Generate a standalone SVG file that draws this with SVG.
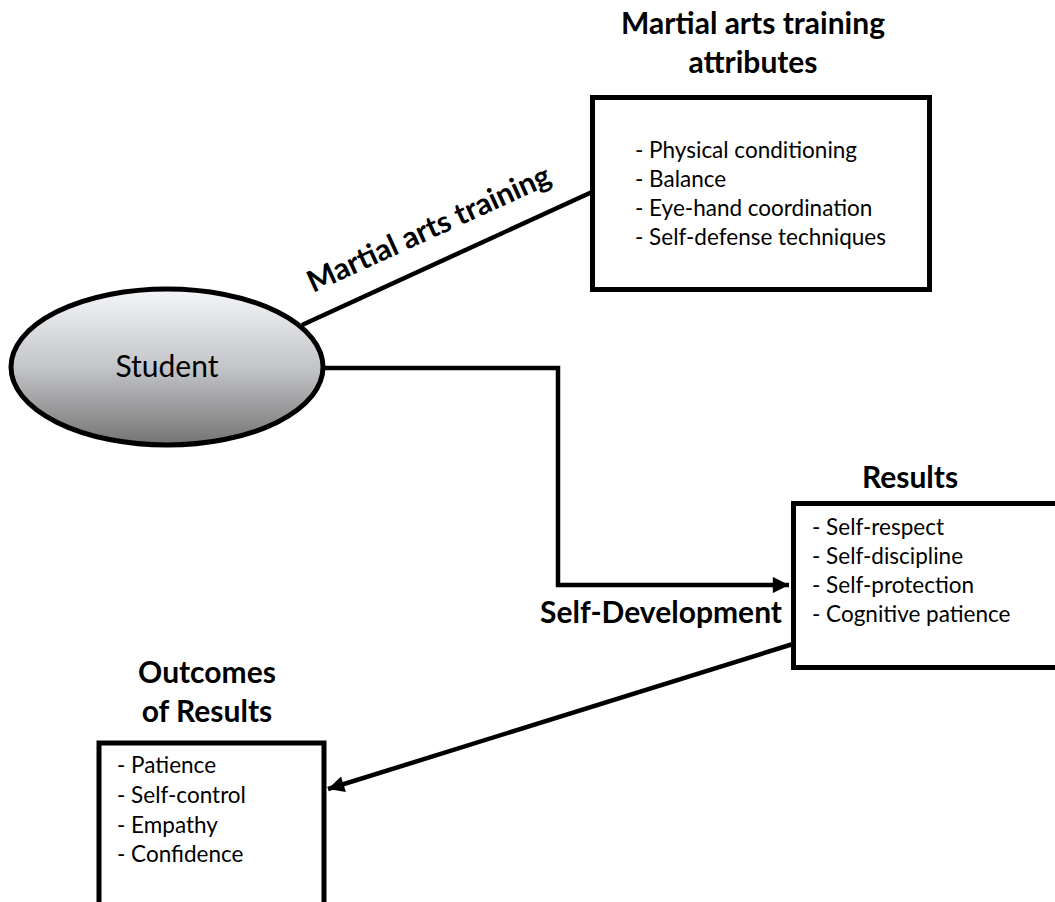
<svg xmlns="http://www.w3.org/2000/svg" width="1055" height="902" viewBox="0 0 1055 902">
<style>
.box{fill:#fff;stroke:#000;stroke-width:5}
.conn{fill:none;stroke:#000;stroke-width:4.5}
.body{font-family:Lato,"Open Sans",sans-serif;font-size:22.5px;fill:#000}
.bold{font-family:Lato,"Open Sans",sans-serif;font-size:30px;font-weight:bold;fill:#000}
.stu{font-family:Lato,"Open Sans",sans-serif;font-size:30px;fill:#000}
</style>
<defs>
<linearGradient id="g" x1="0" y1="0" x2="0" y2="1">
<stop offset="0" stop-color="#f4f6fa"/>
<stop offset="0.5" stop-color="#c4c5c8"/>
<stop offset="1" stop-color="#747474"/>
</linearGradient>
<marker id="ah" viewBox="0 0 10 10" refX="10" refY="5" markerWidth="4" markerHeight="3.6" orient="auto" markerUnits="strokeWidth">
<path d="M0,0 L10,5 L0,10 z" fill="#000"/>
</marker>
</defs>
<rect width="1055" height="902" fill="#fff"/>
<g id="connectors">
<line class="conn" x1="302" y1="325" x2="592" y2="192"/>
<polyline class="conn" points="325,368 558,368 558,585 789,585" marker-end="url(#ah)"/>
<line class="conn" x1="793" y1="644" x2="328" y2="789" marker-end="url(#ah)"/>
<text class="bold" transform="translate(433,238) rotate(-24.6)" text-anchor="middle">Martial arts training</text>
<text class="bold" x="540" y="623">Self-Development</text>
</g>
<g id="student">
<ellipse cx="167" cy="367" rx="156" ry="78" fill="url(#g)" stroke="#000" stroke-width="5"/>
<text class="stu" x="167" y="377" text-anchor="middle">Student</text>
</g>
<g id="attributes">
<text class="bold" x="753" y="34" text-anchor="middle">Martial arts training</text>
<text class="bold" x="753" y="73" text-anchor="middle">attributes</text>
<rect class="box" x="592.5" y="97.5" width="337" height="192"/>
<text class="body" x="635" y="158">- Physical conditioning</text>
<text class="body" x="635" y="187">- Balance</text>
<text class="body" x="635" y="216">- Eye-hand coordination</text>
<text class="body" x="635" y="245">- Self-defense techniques</text>
</g>
<g id="results">
<text class="bold" x="910" y="488" text-anchor="middle">Results</text>
<rect class="box" x="793.5" y="503.5" width="280" height="164"/>
<text class="body" x="812" y="535">- Self-respect</text>
<text class="body" x="812" y="564">- Self-discipline</text>
<text class="body" x="812" y="593">- Self-protection</text>
<text class="body" x="812" y="622">- Cognitive patience</text>
</g>
<g id="outcomes">
<text class="bold" x="207" y="683" text-anchor="middle">Outcomes</text>
<text class="bold" x="207" y="722" text-anchor="middle">of Results</text>
<rect class="box" x="99" y="743" width="225" height="200"/>
<text class="body" x="117" y="773">- Patience</text>
<text class="body" x="117" y="803">- Self-control</text>
<text class="body" x="117" y="833">- Empathy</text>
<text class="body" x="117" y="862">- Confidence</text>
</g>
</svg>
